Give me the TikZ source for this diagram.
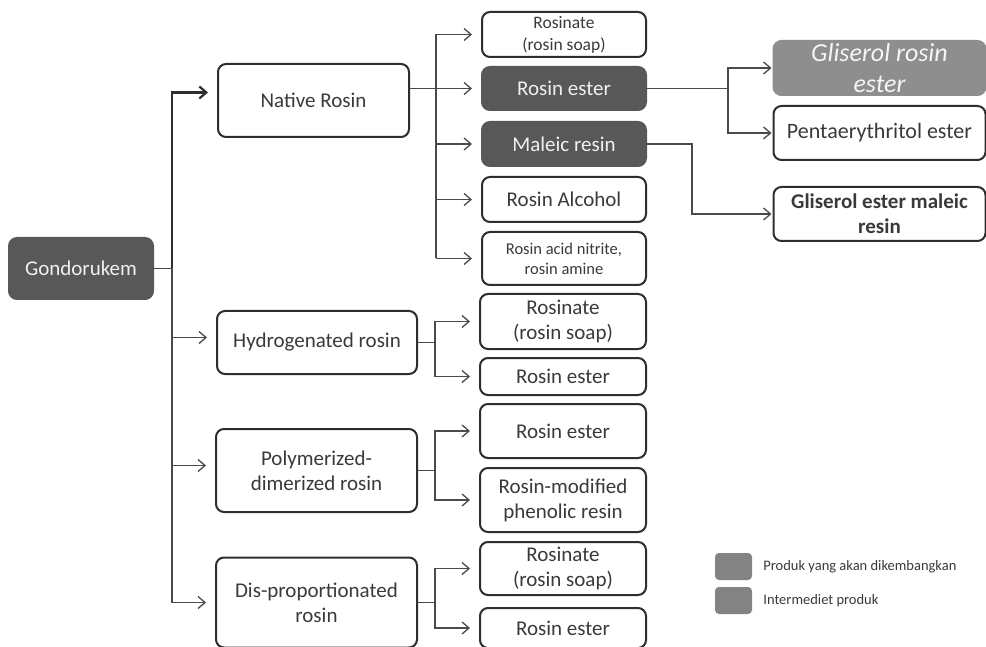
\documentclass[tikz,border=0pt]{standalone}
\usepackage{fontspec}
\setmainfont{Carlito}
\usepackage{tikz}
\usetikzlibrary{positioning,calc,arrows.meta}
\definecolor{boxline}{HTML}{2E2E2E}
\definecolor{darkfill}{HTML}{585858}
\definecolor{lightfill}{HTML}{8E8E8E}
\definecolor{linkgray}{HTML}{4A4A4A}
\definecolor{txtgray}{HTML}{3A3A3A}

\begin{document}
\begin{tikzpicture}[x=1pt,y=-1pt,
    box/.style={rectangle,draw=boxline,line width=2pt,rounded corners=8pt,fill=white,text=txtgray,
        align=center,inner sep=0pt,outer sep=0pt,font=\fontsize{21}{25}\selectfont},
    dark/.style={box,draw=darkfill,fill=darkfill,text=white!88!gray},
    light/.style={box,draw=lightfill,fill=lightfill,text=white!92!gray},
    small/.style={font=\fontsize{17.5}{22}\selectfont},
    link/.style={draw=linkgray,line width=1.3pt},
    arr/.style={link,-{Straight Barb[length=7pt,width=12pt]},shorten >=10pt},
    key/.style={rectangle,fill=lightfill!92!black,rounded corners=4pt,minimum width=37pt,minimum height=27pt},
    keytxt/.style={inner sep=0pt,text=txtgray,font=\fontsize{14.5}{17}\selectfont}]

\path[use as bounding box,fill=white] (0,0) rectangle (986,647);

% Source and the four rosin types
\node[dark,minimum width=144pt,minimum height=61pt] (gondo) at (81,268.5) {Gondorukem};
\node[box,minimum width=191pt,minimum height=73pt] (native) at (313.5,100.5) {Native Rosin};
\node[box,minimum width=200pt,minimum height=63pt] (hydro) at (317,342.5) {Hydrogenated rosin};
\node[box,minimum width=201pt,minimum height=83pt] (poly) at (316.5,470.5) {Polymerized-\\dimerized rosin};
\node[box,minimum width=201pt,minimum height=90pt] (dis) at (316.5,602.5) {Dis-proportionated\\rosin};

% Products of native rosin
\node[box,small,minimum width=164pt,minimum height=45pt] (rsA) at (564,34.5) {Rosinate\\(rosin soap)};
\node[dark,minimum width=164pt,minimum height=43pt] (reA) at (564,88.5) {Rosin ester};
\node[dark,minimum width=164pt,minimum height=44pt] (mal) at (564,144) {Maleic resin};
\node[box,minimum width=164pt,minimum height=45pt] (alc) at (564,199.5) {Rosin Alcohol};
\node[box,font=\fontsize{16.5}{20}\selectfont,minimum width=164pt,minimum height=53pt] (ami) at (564,258.5) {Rosin acid nitrite,\\rosin amine};

% Products of the other types
\node[box,minimum width=166pt,minimum height=55pt] (rsB) at (563,321.5) {Rosinate\\(rosin soap)};
\node[box,minimum width=166pt,minimum height=37pt] (reB) at (563,376.5) {Rosin ester};
\node[box,minimum width=166pt,minimum height=54pt] (reC) at (563,431) {Rosin ester};
\node[box,minimum width=166pt,minimum height=64pt] (phe) at (563,500) {Rosin-modified\\phenolic resin};
\node[box,minimum width=166pt,minimum height=53pt] (rsD) at (563,568.5) {Rosinate\\(rosin soap)};
\node[box,minimum width=166pt,minimum height=40pt] (reD) at (563,628) {Rosin ester};

% Further products
\node[light,font=\fontsize{26}{31}\selectfont\itshape,minimum width=212pt,minimum height=54pt] (gre) at (879.5,68) {Gliserol rosin\\ester};
\node[box,font=\fontsize{22}{26}\selectfont,minimum width=212pt,minimum height=54pt] (pen) at (879.5,133) {Pentaerythritol ester};
\node[box,font=\fontsize{21}{25}\selectfont\bfseries,minimum width=212pt,minimum height=54pt] (gem) at (879.5,214) {Gliserol ester maleic\\resin};

% Branch points
\coordinate (trunk) at (172,268.5);
\coordinate (nb) at (436,0);
\coordinate (hb) at (435,0);
\coordinate (eb) at (728,0);
\coordinate (mb) at (692,0);

% Connectors
\draw[link] (gondo) -- (trunk);
\draw[arr,draw=boxline,line width=2.2pt] (trunk) |- ([yshift=8pt]native.west);
\draw[arr] (trunk) |- ([yshift=5pt]hydro.west);
\draw[arr] (trunk) |- ([yshift=5pt]poly.west);
\draw[arr] (trunk) |- (dis);

\draw[arr] (native.east |- reA) -- (reA);
\draw[link] (nb |- rsA) -- (nb |- ami);
\foreach \n in {rsA,mal,alc,ami} { \draw[arr] (nb |- \n) -- (\n); }

\foreach \p/\a/\b in {hydro/rsB/reB,poly/reC/phe,dis/rsD/reD} {
    \draw[link] (\p) -- (hb |- \p);
    \draw[arr] (hb |- \p) |- (\a);
    \draw[arr] (hb |- \p) |- (\b);
}

\draw[link] (reA) -- (eb |- reA);
\draw[arr,shorten >=2pt] (eb |- reA) |- (gre);
\draw[arr,shorten >=2pt] (eb |- reA) |- (pen);
\draw[arr,shorten >=2pt] (mal) -| (mb |- gem) -- (gem);

% Legend
\node[key] (k1) at (733.5,566.5) {};
\node[key] (k2) at (733.5,600.5) {};
\node[keytxt,right=11pt of k1] (t1) {Produk yang akan dikembangkan};
\node[keytxt,right=11pt of k2] (t2) {Intermediet produk};

\end{tikzpicture}
\end{document}
